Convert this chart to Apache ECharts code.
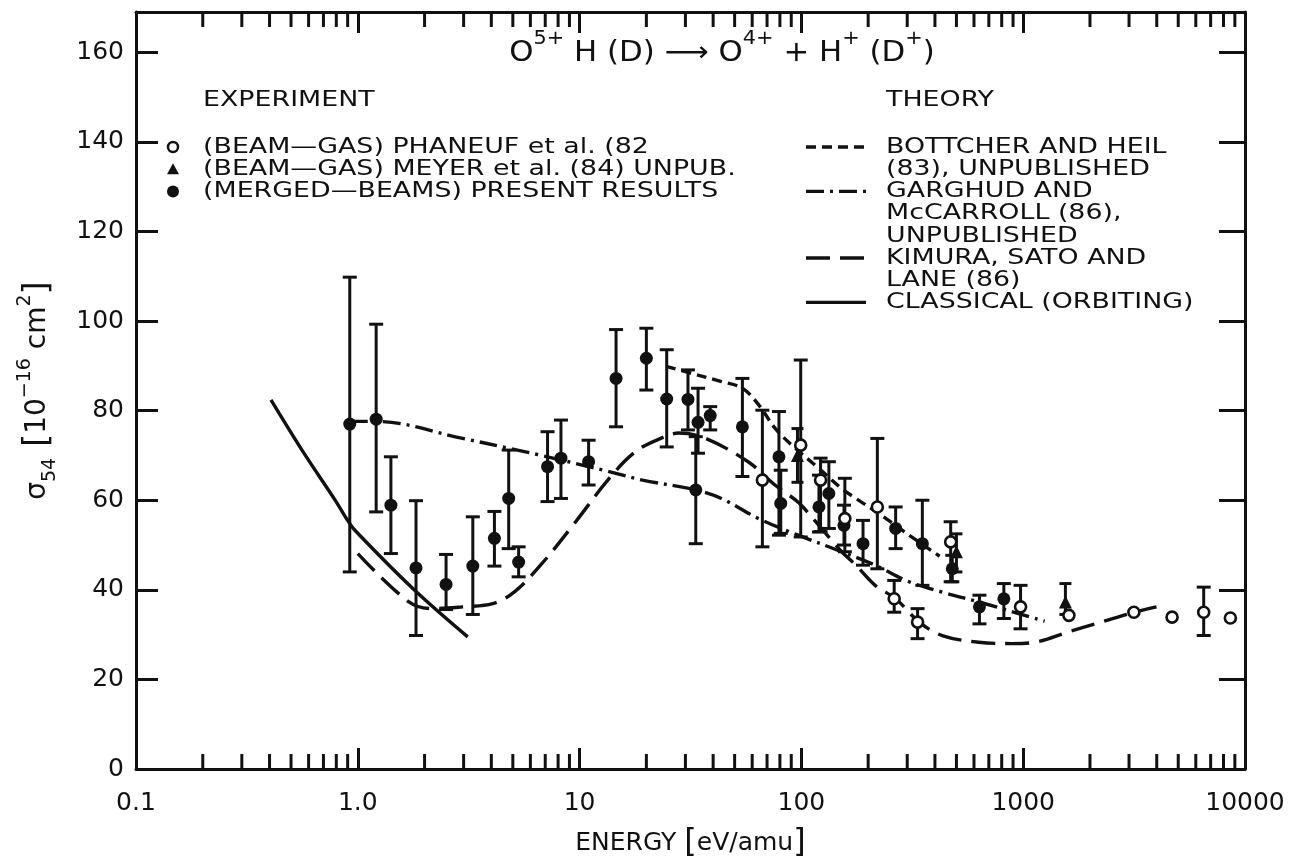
<!DOCTYPE html>
<html>
<head>
<meta charset="utf-8">
<script src="https://cdn.jsdelivr.net/npm/echarts@6/dist/echarts.min.js"></script>
<style>
  html, body { margin: 0; padding: 0; background: #fff; }
  #chart { width: 1310px; height: 864px; }
</style>
</head>
<body>
<div id="chart"></div>
<script>
// ---- axis ticks -------------------------------------------------------
const energyTicks = [0.1, 1, 10, 100, 1000, 10000];
const energyTickLabels = ['0.1', '1.0', '10', '100', '1000', '10000'];
const sigmaTicks = [0, 20, 40, 60, 80, 100, 120, 140, 160];
const SIGMA_MAX = 169;

// ---- experiment: [energy eV/amu, sigma, lower, upper] -------------------
const phaneuf = [
  [66.7, 64.5, 49.6, 80.1],
  [99.3, 72.3, 51.8, 91.3],
  [122, 64.5, 53.0, 69.4],
  [157, 55.9, 48.5, 64.9],
  [220, 58.5, 44.7, 73.8],
  [262, 38.0, 35.0, 42.1],
  [334, 32.8, 29.1, 35.8],
  [471, 50.7, 41.8, 55.2],
  [973, 36.2, 31.3, 41.0],
  [1607, 34.3, null, null],
  [3155, 35.0, null, null],
  [4690, 33.9, null, null],
  [6513, 35.0, 29.8, 40.6],
  [8590, 33.7, null, null]
];
const meyer = [
  [96, 70.0, 64.0, 76.0],
  [500, 48.5, 44.0, 52.5],
  [1550, 37.3, 34.5, 41.4]
];
const mergedBeams = [
  [0.92, 77.0, 44.0, 109.8],
  [1.21, 78.1, 57.4, 99.3],
  [1.41, 58.9, 48.1, 69.7],
  [1.83, 44.9, 29.8, 59.9],
  [2.50, 41.2, 35.6, 47.9],
  [3.30, 45.3, 34.5, 56.3],
  [4.13, 51.5, 45.3, 57.5],
  [4.79, 60.4, 49.2, 71.2],
  [5.31, 46.2, 42.9, 49.6],
  [7.17, 67.5, 59.7, 75.3],
  [8.24, 69.4, 60.4, 77.9],
  [10.98, 68.6, 63.4, 73.4],
  [14.6, 87.2, 76.4, 98.1],
  [20.0, 91.7, 84.6, 98.4],
  [24.7, 82.6, 71.9, 93.6],
  [30.8, 82.5, 75.7, 89.1],
  [33.4, 62.3, 50.3, 74.2],
  [34.2, 77.4, 70.5, 85.0],
  [38.8, 78.9, 75.7, 80.9],
  [54.2, 76.4, 65.3, 87.2],
  [79.2, 69.7, 52.2, 79.8],
  [80.7, 59.3, 52.6, 66.7],
  [120, 58.5, 52.9, 65.6],
  [133, 61.5, 53.7, 68.6],
  [155.6, 54.4, 50.0, 58.9],
  [189.6, 50.3, 45.5, 55.5],
  [266, 53.7, 49.2, 58.5],
  [351, 50.3, 41.0, 60.0],
  [479, 44.7, 41.8, 47.7],
  [635, 36.2, 32.4, 38.8],
  [818, 38.0, 33.6, 41.4]
];

// ---- theory curves: [energy, sigma] -------------------------------------
const bottcherHeil = [
  [24.5, 89.9], [30, 88.7], [43.6, 86.5], [54.2, 85.0], [64.2, 81.3],
  [76, 76.1], [90.6, 72.3], [120, 67.1], [152, 62.6], [176, 60.4],
  [230, 56.6], [300, 52.5], [420, 47.5]
];
const garghudMcCarroll = [
  [0.92, 77.6], [1.21, 77.6], [2.97, 73.8], [4.8, 71.6], [6.6, 70.1],
  [13.6, 66.4], [19.2, 64.5], [33.4, 62.3], [43.6, 60.4], [64.2, 55.9],
  [96.7, 52.2], [152, 48.5], [215, 45.5], [306, 41.8], [431, 39.5],
  [630, 37.3], [1250, 33.0]
];
const kimuraSatoLane = [
  [1.0, 48.1], [1.70, 37.3], [2.17, 35.8], [2.97, 36.2], [4.05, 36.9],
  [5.1, 39.6], [6.8, 46.0], [9.6, 55.2], [13.6, 64.9], [17.9, 70.9],
  [23.2, 73.8], [28, 75.0], [37, 73.8], [57.5, 68.6], [76, 63.4],
  [97, 59.5], [116, 55.2], [152, 48.5], [176, 45.5], [215, 41.0],
  [266, 38.0], [340, 32.8], [431, 29.8], [630, 28.3], [886, 28.0],
  [1130, 28.3], [1600, 30.6], [2250, 32.8], [3163, 35.0], [3990, 36.2]
];
const classicalOrbiting = [
  [0.406, 82.4], [0.565, 70.9], [0.798, 59.7], [0.90, 55.5],
  [0.97, 53.3], [1.77, 40.3], [3.13, 29.5]
];

// minor ticks of the log energy axis (2..9 in every decade)
const minorEnergyTicks = [];
for (let e = -1; e < 4; e++) {
  for (let m = 2; m <= 9; m++) minorEnergyTicks.push(+(m * Math.pow(10, e)).toPrecision(3));
}

const FONT = '"DejaVu Sans", sans-serif';
const INK = '#111';

function energyLabel(v) {
  for (let i = 0; i < energyTicks.length; i++) {
    if (Math.abs(v / energyTicks[i] - 1) < 1e-6) return energyTickLabels[i];
  }
  return '';
}
function sigmaLabel(v) {
  const r = Math.round(v);
  return (Math.abs(v - r) < 1e-6 && sigmaTicks.indexOf(r) >= 0) ? String(r) : '';
}

function errorBars(rows, cap) {
  return {
    type: 'custom',
    silent: true,
    z: 3,
    data: rows.filter(r => r[2] != null).map(r => [r[0], r[1], r[2], r[3]]),
    encode: { x: 0, y: [2, 3] },
    renderItem(params, api) {
      const e = api.value(0);
      const lo = api.coord([e, api.value(2)]);
      const hi = api.coord([e, api.value(3)]);
      const s = { stroke: INK, lineWidth: 3 };
      return {
        type: 'group',
        children: [
          { type: 'line', shape: { x1: lo[0], y1: lo[1], x2: hi[0], y2: hi[1] }, style: s },
          { type: 'line', shape: { x1: lo[0] - cap, y1: lo[1], x2: lo[0] + cap, y2: lo[1] }, style: s },
          { type: 'line', shape: { x1: hi[0] - cap, y1: hi[1], x2: hi[0] + cap, y2: hi[1] }, style: s }
        ]
      };
    }
  };
}

function theoryLine(data, dash) {
  return {
    type: 'line',
    data: data,
    showSymbol: false,
    smooth: 0.35,
    silent: true,
    z: 2,
    lineStyle: { color: INK, width: 3.4, type: dash, opacity: 1 }
  };
}

const minorTickSeries = {
  type: 'custom',
  silent: true,
  z: 5,
  data: minorEnergyTicks.map(v => [v, 0]),
  encode: { x: 0, y: 1 },
  renderItem(params, api) {
    const v = api.value(0);
    const b = api.coord([v, 0]);
    const t = api.coord([v, SIGMA_MAX]);
    const s = { stroke: INK, lineWidth: 3 };
    return {
      type: 'group',
      children: [
        { type: 'line', shape: { x1: b[0], y1: b[1], x2: b[0], y2: b[1] - 15 }, style: s },
        { type: 'line', shape: { x1: t[0], y1: t[1], x2: t[0], y2: t[1] + 15 }, style: s }
      ]
    };
  }
};

// ---- legend / annotation text -------------------------------------------
const experimentRows = [
  '(BEAM\u2014GAS) PHANEUF et al. (82',
  '(BEAM\u2014GAS) MEYER et al. (84) UNPUB.',
  '(MERGED\u2014BEAMS) PRESENT RESULTS'
];
const theoryRows = [
  'BOTTCHER AND HEIL', '(83), UNPUBLISHED', 'GARGHUD AND', 'McCARROLL (86),',
  'UNPUBLISHED', 'KIMURA, SATO AND', 'LANE (86)', 'CLASSICAL (ORBITING)'
];

const LEG_FONT = '22px ' + FONT;
const WIDEN = 1.22;
const ROW0 = 147, ROW_STEP = 22.2;
const graphics = [];
function txt(x, y, text) {
  graphics.push({
    type: 'text', z: 10, x: x, y: y, scaleX: WIDEN,
    style: { x: 0, y: 0, text, font: LEG_FONT, fill: INK, verticalAlign: 'middle', textAlign: 'left' }
  });
}
txt(203, 100, 'EXPERIMENT');
txt(886, 100, 'THEORY');
experimentRows.forEach((t, i) => txt(203, ROW0 + i * ROW_STEP, t));
theoryRows.forEach((t, i) => txt(886, ROW0 + i * ROW_STEP, t));

// experiment markers
graphics.push({ type: 'circle', z: 10, shape: { cx: 173, cy: ROW0, r: 5 }, style: { fill: '#fff', stroke: INK, lineWidth: 2.5 } });
graphics.push({ type: 'polygon', z: 10, shape: { points: [[173, ROW_STEP + ROW0 - 6], [179, ROW_STEP + ROW0 + 5], [167, ROW_STEP + ROW0 + 5]] }, style: { fill: INK } });
graphics.push({ type: 'circle', z: 10, shape: { cx: 173, cy: ROW0 + 2 * ROW_STEP, r: 6 }, style: { fill: INK } });

// theory line samples
function sample(row, dash) {
  const y = ROW0 + row * ROW_STEP;
  graphics.push({ type: 'line', z: 10, shape: { x1: 806, y1: y, x2: 866, y2: y }, style: { stroke: INK, lineWidth: 3.4, lineDash: dash } });
}
sample(0, [10, 6]);
sample(2, [18, 6, 3, 6]);
sample(5, [24, 10]);
sample(7, null);

// reaction title
graphics.push({
  type: 'text', z: 10, x: 722, y: 49, scaleX: 1.1,
  style: {
    x: 0, y: 0, textAlign: 'center', verticalAlign: 'middle', fill: INK,
    text: '{b|O}{s|5+}{b| H (D) \u27F6 O}{s|4+}{b| + H}{s|+}{b| (D}{s|+}{b|)}',
    rich: {
      b: { fontSize: 28, fontFamily: FONT, lineHeight: 38, verticalAlign: 'bottom' },
      s: { fontSize: 19, fontFamily: FONT, lineHeight: 38, verticalAlign: 'top', padding: [0, 0, 12, 0] }
    }
  }
});

const chart = echarts.init(document.getElementById('chart'), null, { renderer: 'canvas' });
const axisLabelStyle = { fontFamily: FONT, fontSize: 25, color: INK };
const frameLine = { show: true, onZero: false, lineStyle: { color: INK, width: 3 } };

chart.setOption({
  animation: false,
  backgroundColor: '#fff',
  grid: { left: 136, right: 65, top: 12, bottom: 88, containLabel: false },
  xAxis: [
    {
      type: 'log', logBase: 10, min: 0.1, max: 10000, position: 'bottom',
      name: '{t|ENERGY }{k|[}{t|eV/amu}{k|]}',
      nameLocation: 'middle', nameGap: 58,
      nameTextStyle: {
        rich: {
          t: { fontFamily: FONT, fontSize: 25, color: INK },
          k: { fontFamily: FONT, fontSize: 32, color: INK }
        }
      },
      axisLine: frameLine,
      axisTick: { show: true, inside: true, length: 21, lineStyle: { color: INK, width: 3 } },
      minorTick: { show: false },
      splitLine: { show: false },
      axisLabel: { ...axisLabelStyle, margin: 22, formatter: energyLabel }
    },
    {
      type: 'log', logBase: 10, min: 0.1, max: 10000, position: 'top',
      axisLine: frameLine,
      axisTick: { show: true, inside: true, length: 21, lineStyle: { color: INK, width: 3 } },
      splitLine: { show: false },
      axisLabel: { show: false }
    }
  ],
  yAxis: [
    {
      type: 'value', min: 0, max: SIGMA_MAX, interval: 20, position: 'left',
      name: '{b|\u03C3}{sub|54}{k| [}{b|10}{sup|\u221216}{b| cm}{sup|2}{k|]}',
      nameLocation: 'middle', nameRotate: 90, nameGap: 76,
      nameTextStyle: {
        rich: {
          b: { fontFamily: FONT, fontSize: 28, color: INK, lineHeight: 44, verticalAlign: 'middle' },
          k: { fontFamily: FONT, fontSize: 34, color: INK, lineHeight: 44, verticalAlign: 'middle' },
          sub: { fontFamily: FONT, fontSize: 19, color: INK, lineHeight: 44, verticalAlign: 'bottom', padding: [12, 0, 0, 0] },
          sup: { fontFamily: FONT, fontSize: 19, color: INK, lineHeight: 44, verticalAlign: 'top', padding: [0, 0, 14, 0] }
        }
      },
      axisLine: frameLine,
      axisTick: { show: true, inside: true, length: 22, lineStyle: { color: INK, width: 3 } },
      splitLine: { show: false },
      axisLabel: { ...axisLabelStyle, margin: 12, formatter: sigmaLabel, showMaxLabel: false }
    },
    {
      type: 'value', min: 0, max: SIGMA_MAX, interval: 20, position: 'right',
      axisLine: frameLine,
      axisTick: { show: true, inside: true, length: 26, lineStyle: { color: INK, width: 3 } },
      splitLine: { show: false },
      axisLabel: { show: false }
    }
  ],
  graphic: graphics,
  series: [
    minorTickSeries,
    theoryLine(bottcherHeil, [10, 6]),
    theoryLine(garghudMcCarroll, [18, 6, 3, 6]),
    theoryLine(kimuraSatoLane, [24, 10]),
    theoryLine(classicalOrbiting, 'solid'),
    errorBars(mergedBeams, 7),
    errorBars(phaneuf, 7),
    errorBars(meyer, 6),
    {
      type: 'scatter', z: 4, silent: true,
      data: mergedBeams.map(r => [r[0], r[1]]),
      symbol: 'circle', symbolSize: 13,
      itemStyle: { color: INK, opacity: 1 }
    },
    {
      type: 'scatter', z: 4, silent: true,
      data: phaneuf.map(r => [r[0], r[1]]),
      symbol: 'circle', symbolSize: 11,
      itemStyle: { color: '#fff', borderColor: INK, borderWidth: 2.6, opacity: 1 }
    },
    {
      type: 'scatter', z: 4, silent: true,
      data: meyer.map(r => [r[0], r[1]]),
      symbol: 'triangle', symbolSize: 13,
      itemStyle: { color: INK, opacity: 1 }
    }
  ]
});
</script>
</body>
</html>
